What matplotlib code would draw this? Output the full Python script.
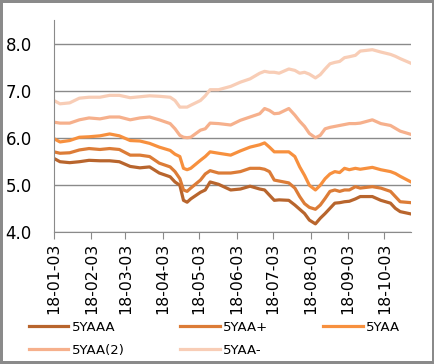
import pandas as pd
import matplotlib.pyplot as plt
import matplotlib.dates as mdates

# yields (approx weekly)
dates = ['2018-01-03', '2018-01-08', '2018-01-16', '2018-01-24', '2018-02-01', '2018-02-10',
         '2018-02-18', '2018-02-26', '2018-03-07', '2018-03-15', '2018-03-23', '2018-03-31',
         '2018-04-09', '2018-04-13', '2018-04-17', '2018-04-20', '2018-04-23', '2018-04-26',
         '2018-05-04', '2018-05-08', '2018-05-12', '2018-05-19', '2018-05-29', '2018-06-06',
         '2018-06-14', '2018-06-22', '2018-06-26', '2018-06-30', '2018-07-04', '2018-07-08',
         '2018-07-16', '2018-07-21', '2018-07-25', '2018-07-29', '2018-08-02', '2018-08-07',
         '2018-08-11', '2018-08-15', '2018-08-19', '2018-08-23', '2018-08-27', '2018-08-31',
         '2018-09-04', '2018-09-09', '2018-09-13', '2018-09-23', '2018-09-30', '2018-10-08',
         '2018-10-12', '2018-10-16', '2018-10-25']

aaa = [5.56, 5.49, 5.47, 5.49, 5.52, 5.51, 5.51, 5.49, 5.39, 5.36, 5.38, 5.25, 5.17, 5.06, 4.99,
       4.67, 4.63, 4.70, 4.84, 4.89, 5.06, 5.01, 4.89, 4.91, 4.97, 4.91, 4.89, 4.78, 4.67, 4.68,
       4.67, 4.57, 4.48, 4.39, 4.25, 4.17, 4.29, 4.39, 4.50, 4.61, 4.62, 4.64, 4.65, 4.70, 4.75,
       4.75, 4.67, 4.61, 4.50, 4.43, 4.38]
aa_plus = [5.70, 5.67, 5.68, 5.74, 5.77, 5.75, 5.77, 5.75, 5.63, 5.63, 5.60, 5.46, 5.38, 5.28, 5.13,
           4.89, 4.86, 4.93, 5.10, 5.23, 5.30, 5.25, 5.25, 5.28, 5.35, 5.35, 5.33, 5.28, 5.10, 5.08,
           5.04, 4.93, 4.75, 4.60, 4.52, 4.48, 4.57, 4.71, 4.86, 4.89, 4.86, 4.89, 4.89, 4.96, 4.93,
           4.96, 4.93, 4.86, 4.75, 4.64, 4.62]
aa = [5.98, 5.91, 5.94, 6.01, 6.02, 6.04, 6.08, 6.04, 5.94, 5.93, 5.88, 5.80, 5.73, 5.65, 5.60,
      5.35, 5.32, 5.35, 5.52, 5.60, 5.70, 5.67, 5.63, 5.72, 5.80, 5.85, 5.89, 5.80, 5.70, 5.70,
      5.70, 5.60, 5.38, 5.20, 4.99, 4.89, 4.99, 5.13, 5.23, 5.28, 5.26, 5.35, 5.32, 5.35, 5.33,
      5.37, 5.32, 5.28, 5.24, 5.18, 5.06]
aa2 = [6.33, 6.31, 6.31, 6.38, 6.42, 6.40, 6.44, 6.44, 6.38, 6.42, 6.44, 6.38, 6.30, 6.19, 6.05,
       6.01, 6.00, 6.01, 6.16, 6.19, 6.31, 6.30, 6.27, 6.37, 6.44, 6.51, 6.62, 6.58, 6.51, 6.52,
       6.62, 6.48, 6.35, 6.24, 6.09, 6.00, 6.05, 6.19, 6.22, 6.24, 6.26, 6.28, 6.30, 6.30, 6.31,
       6.38, 6.30, 6.26, 6.20, 6.14, 6.07]
aa_minus = [6.79, 6.72, 6.74, 6.84, 6.86, 6.86, 6.90, 6.90, 6.85, 6.87, 6.89, 6.88, 6.86, 6.79, 6.65,
            6.65, 6.65, 6.69, 6.79, 6.89, 7.02, 7.02, 7.09, 7.18, 7.25, 7.37, 7.41, 7.39, 7.39, 7.37,
            7.46, 7.43, 7.37, 7.39, 7.35, 7.27, 7.34, 7.46, 7.57, 7.60, 7.62, 7.70, 7.72, 7.75, 7.84,
            7.87, 7.82, 7.77, 7.73, 7.68, 7.58]

labels = ['5YAAA', '5YAA+', '5YAA', '5YAA(2)', '5YAA-']
colors = ['#B8652D', '#DC7C37', '#F7903E', '#F6B08C', '#F8CDB6']

plt.rcParams['font.family'] = ['DejaVu Sans']

x = pd.to_datetime(dates)
fig = plt.figure(figsize=(4.35, 3.64), dpi=100)
fig.patch.set_edgecolor('#8a8a8a')
fig.patch.set_linewidth(3)
ax = fig.add_axes([0.124, 0.363, 0.821, 0.582])

lines = []
for ys, lab, c in zip([aaa, aa_plus, aa, aa2, aa_minus], labels, colors):
    ln, = ax.plot(x, ys, color=c, lw=2.3, label=lab)
    lines.append(ln)

ax.set_ylim(4.0, 8.5)
ax.set_yticks([4.0, 5.0, 6.0, 7.0, 8.0])
ax.set_yticklabels(['4.0', '5.0', '6.0', '7.0', '8.0'], fontsize=12)
ax.set_xlim(pd.Timestamp('2018-01-03'), pd.Timestamp('2018-10-25'))
ticks = pd.date_range('2018-01-01', periods=10, freq='MS') + pd.Timedelta(days=2)
ax.set_xticks(ticks)
ax.xaxis.set_major_formatter(mdates.DateFormatter('%y-%m-%d'))
plt.setp(ax.get_xticklabels(), rotation=90, fontsize=11.3)
ax.grid(axis='y', color='#8a8a8a', lw=1)
for s in ['top', 'right']:
    ax.spines[s].set_visible(False)
for s in ['left', 'bottom']:
    ax.spines[s].set_color('#8a8a8a')
ax.tick_params(axis='y', length=0, pad=16)
ax.tick_params(axis='x', length=5, color='#8a8a8a', pad=3)

# legend filled row-wise: reorder for column-major layout
order = [0, 3, 1, 4, 2]
fig.legend([lines[i] for i in order], [labels[i] for i in order],
           loc='lower left', bbox_to_anchor=(0.045, -0.005), ncol=3,
           frameon=False, fontsize=9.5, handlelength=3.0, handletextpad=0.25,
           columnspacing=4.2, labelspacing=0.75, borderaxespad=0.3)

plt.savefig('out.png', dpi=100)
